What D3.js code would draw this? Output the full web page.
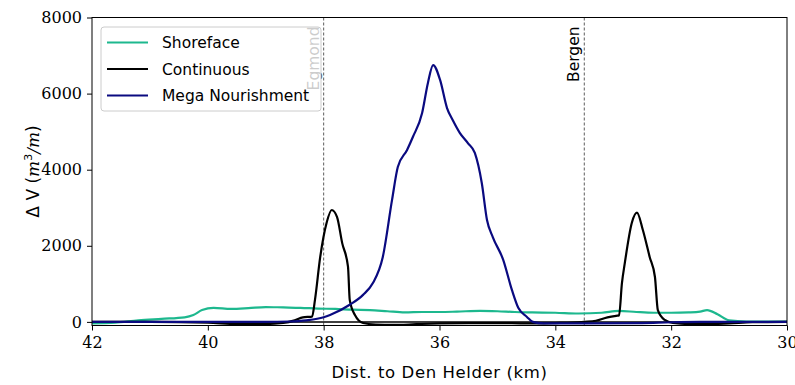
<!DOCTYPE html>
<html>
<head>
<meta charset="utf-8">
<script src="https://cdn.jsdelivr.net/npm/d3@7"></script>
<style>
  body { margin: 0; background: #fff; }
  svg { display: block; }
  .tick text { font-family: "DejaVu Serif", serif; font-size: 16px; fill: #000; }
  .lbl { font-family: "DejaVu Sans", sans-serif; font-size: 15.5px; fill: #000; }
</style>
</head>
<body>
<svg id="chart" width="795" height="385"></svg>
<script>
const xTicks = [42, 40, 38, 36, 34, 32, 30];
const yTicks = [0, 2000, 4000, 6000, 8000];

const shorefaceKm = [42, 41.6, 41.2, 40.8, 40.4, 40.25, 40.1, 39.9, 39.6, 39.3, 39.0, 38.7, 38.4, 38.1, 37.8, 37.5, 37.2, 36.9, 36.6, 36.3, 36.0, 35.7, 35.3, 35.0, 34.7, 34.4, 34.0, 33.6, 33.2, 32.9, 32.6, 32.3, 32.0, 31.7, 31.5, 31.38, 31.2, 31.0, 30.7, 30.0];
const shorefaceV = [-40, -20, 40, 80, 120, 180, 310, 370, 340, 360, 390, 380, 370, 350, 340, 320, 310, 280, 250, 260, 260, 270, 290, 280, 260, 250, 240, 220, 240, 290, 260, 240, 240, 250, 270, 310, 200, 40, 10, 10];

const continuousKm = [42, 41, 40, 39.5, 39, 38.7, 38.5, 38.36, 38.2, 38.15, 38.06, 37.95, 37.86, 37.77, 37.68, 37.58, 37.55, 37.46, 37.32, 37.1, 36.8, 36.4, 36, 35.5, 35, 34.5, 34, 33.7, 33.5, 33.3, 33.1, 32.95, 32.9, 32.85, 32.8, 32.68, 32.59, 32.49, 32.37, 32.28, 32.23, 32.11, 31.97, 31.7, 31.4, 31.0, 30.6, 30.0];
const continuousV = [0, 0, -20, -60, -60, -30, 40, 120, 140, 580, 1700, 2600, 2940, 2760, 2070, 1450, 580, 180, -30, -70, -80, -60, -40, -30, -30, -40, -30, -20, 0, 30, 120, 160, 170, 1020, 1550, 2600, 2870, 2420, 1700, 1180, 310, 50, -30, -60, -60, -40, -10, 0];

const megaKm = [42, 40, 39, 38.6, 38.3, 38.0, 37.89, 37.55, 37.32, 37.15, 36.98, 36.82, 36.72, 36.56, 36.46, 36.30, 36.20, 36.11, 35.99, 35.87, 35.77, 35.65, 35.51, 35.39, 35.27, 35.18, 35.08, 34.90, 34.75, 34.64, 34.49, 34.39, 34.2, 33.5, 32.5, 32.0, 31.5, 30.0];
const megaV = [0, 0, 0, 10, 40, 120, 180, 450, 710, 1020, 1700, 3200, 4070, 4520, 4860, 5490, 6280, 6750, 6360, 5620, 5300, 4970, 4700, 4440, 3650, 2680, 2230, 1630, 840, 370, 130, 0, -40, -40, -30, -10, 0, 0];

const towns = [{ name: 'Egmond', km: 38.0 }, { name: 'Bergen', km: 33.5 }];

const series = [
  { name: 'Shoreface', color: '#1db88e', km: shorefaceKm, v: shorefaceV },
  { name: 'Continuous', color: '#000000', km: continuousKm, v: continuousV },
  { name: 'Mega Nourishment', color: '#0a0a80', km: megaKm, v: megaV }
];

const svg = d3.select('#chart');
const margin = { top: 17.5, right: 8, bottom: 59.5, left: 92 };
const width = +svg.attr('width') - margin.left - margin.right;
const height = +svg.attr('height') - margin.top - margin.bottom;

const x = d3.scaleLinear().domain([42, 30]).range([0, width]);
const y = d3.scaleLinear().domain([-95, 8000]).range([height, 0]);

const g = svg.append('g')
  .attr('transform', 'translate(' + margin.left + ',' + margin.top + ')');

// town markers
towns.forEach(t => {
  g.append('line')
    .attr('x1', x(t.km)).attr('x2', x(t.km))
    .attr('y1', 0).attr('y2', height)
    .attr('stroke', '#333').attr('stroke-width', 0.8)
    .attr('stroke-dasharray', '3,2');
  g.append('text')
    .attr('class', 'lbl')
    .attr('transform', 'translate(' + (x(t.km) - 5) + ',9) rotate(-90)')
    .attr('text-anchor', 'end')
    .text(t.name);
});

// zero line
g.append('line')
  .attr('x1', 0).attr('x2', width)
  .attr('y1', y(0)).attr('y2', y(0))
  .attr('stroke', '#000').attr('stroke-width', 1.5);

const line = d3.line()
  .x(d => x(d[0]))
  .y(d => y(d[1]))
  .curve(d3.curveMonotoneX);

series.forEach(s => {
  g.append('path')
    .datum(d3.zip(s.km, s.v))
    .attr('fill', 'none')
    .attr('stroke', s.color)
    .attr('stroke-width', 2.2)
    .attr('stroke-linejoin', 'round')
    .attr('d', line);
});

// axes
g.append('g')
  .attr('transform', 'translate(0,' + height + ')')
  .call(d3.axisBottom(x).tickValues(xTicks).tickFormat(d3.format('d')).tickSize(5).tickPadding(6));
g.append('g')
  .call(d3.axisLeft(y).tickValues(yTicks).tickFormat(d3.format('d')).tickSize(5).tickPadding(5));
g.selectAll('.domain').remove();
g.append('rect')
  .attr('width', width).attr('height', height)
  .attr('fill', 'none').attr('stroke', '#000').attr('stroke-width', 1);

// legend
const leg = g.append('g').attr('transform', 'translate(9,9.5)');
leg.append('rect')
  .attr('width', 220).attr('height', 84).attr('rx', 3)
  .attr('fill', 'rgba(255,255,255,0.8)').attr('stroke', '#ccc');
series.forEach((s, i) => {
  const yy = 15.5 + i * 26.5;
  leg.append('line')
    .attr('x1', 6).attr('x2', 47).attr('y1', yy).attr('y2', yy)
    .attr('stroke', s.color).attr('stroke-width', 2.2);
  leg.append('text')
    .attr('class', 'lbl')
    .attr('x', 61).attr('y', yy + 5.5)
    .text(s.name);
});

// axis labels
svg.append('text')
  .attr('class', 'lbl')
  .attr('x', margin.left + width / 2).attr('y', 378)
  .attr('text-anchor', 'middle')
  .style('font-size', '16.5px')
  .style('letter-spacing', '0.6px')
  .text('Dist. to Den Helder (km)');

const yl = svg.append('text')
  .attr('class', 'lbl')
  .attr('transform', 'translate(39,' + (margin.top + height / 2) + ') rotate(-90)')
  .attr('text-anchor', 'middle')
  .style('font-size', '17px');
yl.append('tspan').text('Δ V (');
yl.append('tspan').attr('font-family', 'DejaVu Serif').attr('font-style', 'italic').text('m');
yl.append('tspan').attr('font-size', '11px').attr('dy', -7).text('3');
yl.append('tspan').attr('dy', 7).attr('font-family', 'DejaVu Serif').attr('font-style', 'italic').text('/m');
yl.append('tspan').text(')');
</script>
</body>
</html>
